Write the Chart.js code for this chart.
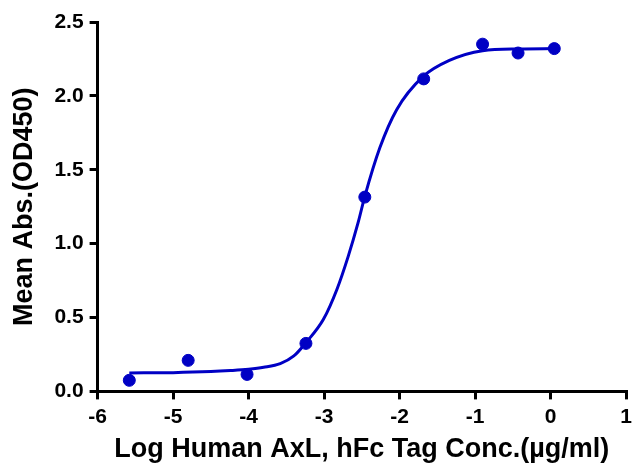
<!DOCTYPE html>
<html>
<head>
<meta charset="utf-8">
<script src="https://cdn.jsdelivr.net/npm/chart.js@4/dist/chart.umd.min.js"></script>
<style>
  html, body { margin: 0; padding: 0; background: #fff; }
  #wrap { width: 633px; height: 463px; }
</style>
</head>
<body>
<div id="wrap"><canvas id="chart" width="633" height="463"></canvas></div>
<script>
// Measured points (log conc vs mean OD450)
const pointX = [-5.58, -4.80, -4.02, -3.24, -2.46, -1.68, -0.90, -0.43, 0.05];
const pointY = [0.075, 0.21, 0.115, 0.325, 1.315, 2.115, 2.35, 2.29, 2.32];

// Fitted curve
const curveX = [-5.58, -5.0, -4.5, -4.24, -4.0, -3.8, -3.58, -3.4, -3.24, -3.01, -2.83, -2.68, -2.55, -2.46, -2.26, -2.04, -1.69, -1.34, -0.90, -0.41, 0.07];
const curveY = [0.125, 0.127, 0.134, 0.141, 0.15, 0.163, 0.188, 0.24, 0.33, 0.486, 0.69, 0.914, 1.14, 1.32, 1.65, 1.905, 2.13, 2.24, 2.306, 2.318, 2.32];

const xTicks = [-6, -5, -4, -3, -2, -1, 0, 1];
const yTicks = [0, 0.5, 1.0, 1.5, 2.0, 2.5];

const blue = '#0000c4';

document.addEventListener('DOMContentLoaded', function() {
    const ctx = document.getElementById('chart').getContext('2d');
    new Chart(ctx, {
        type: 'scatter',
        data: {
            datasets: [{
                label: 'Fit',
                data: curveX.map((x, i) => ({ x: x, y: curveY[i] })),
                showLine: true,
                borderColor: blue,
                borderWidth: 3,
                pointRadius: 0,
                cubicInterpolationMode: 'monotone',
                fill: false
            }, {
                label: 'Mean',
                data: pointX.map((x, i) => ({ x: x, y: pointY[i] })),
                showLine: false,
                backgroundColor: blue,
                borderColor: blue,
                pointRadius: 6,
                pointHoverRadius: 6
            }]
        },
        options: {
            responsive: false,
            animation: false,
            layout: { padding: { left: 8, right: 0, top: 22, bottom: -3 } },
            plugins: {
                legend: { display: false },
                tooltip: { enabled: false }
            },
            scales: {
                x: {
                    type: 'linear',
                    min: xTicks[0],
                    max: xTicks[xTicks.length - 1],
                    afterBuildTicks: function(axis) {
                        axis.ticks = xTicks.map(v => ({ value: v }));
                    },
                    afterFit: function(axis) {
                        axis.paddingRight = 6;
                    },
                    border: { display: true, width: 3, color: '#000' },
                    grid: { drawOnChartArea: false, drawTicks: true, tickLength: 8, lineWidth: 3, color: '#000' },
                    ticks: {
                        color: '#000',
                        font: { family: 'Liberation Sans, Arial, sans-serif', size: 21, weight: 'bold' },
                        padding: 5,
                        maxRotation: 0
                    },
                    title: {
                        display: true,
                        text: 'Log Human AxL, hFc Tag Conc.(µg/ml)',
                        color: '#000',
                        font: { family: 'Liberation Sans, Arial, sans-serif', size: 27, weight: 'bold' },
                        padding: { top: -1, bottom: 0 }
                    }
                },
                y: {
                    type: 'linear',
                    min: yTicks[0],
                    max: yTicks[yTicks.length - 1],
                    afterBuildTicks: function(axis) {
                        axis.ticks = yTicks.map(v => ({ value: v }));
                    },
                    border: { display: true, width: 3, color: '#000' },
                    grid: { drawOnChartArea: false, drawTicks: true, tickLength: 8, lineWidth: 3, color: '#000' },
                    ticks: {
                        color: '#000',
                        font: { family: 'Liberation Sans, Arial, sans-serif', size: 21, weight: 'bold' },
                        padding: 6,
                        callback: function(value) { return value.toFixed(1); }
                    },
                    title: {
                        display: true,
                        text: 'Mean Abs.(OD450)',
                        color: '#000',
                        font: { family: 'Liberation Sans, Arial, sans-serif', size: 27, weight: 'bold' },
                        padding: { top: 0, bottom: 8 }
                    }
                }
            }
        }
    });
});
</script>
</body>
</html>
